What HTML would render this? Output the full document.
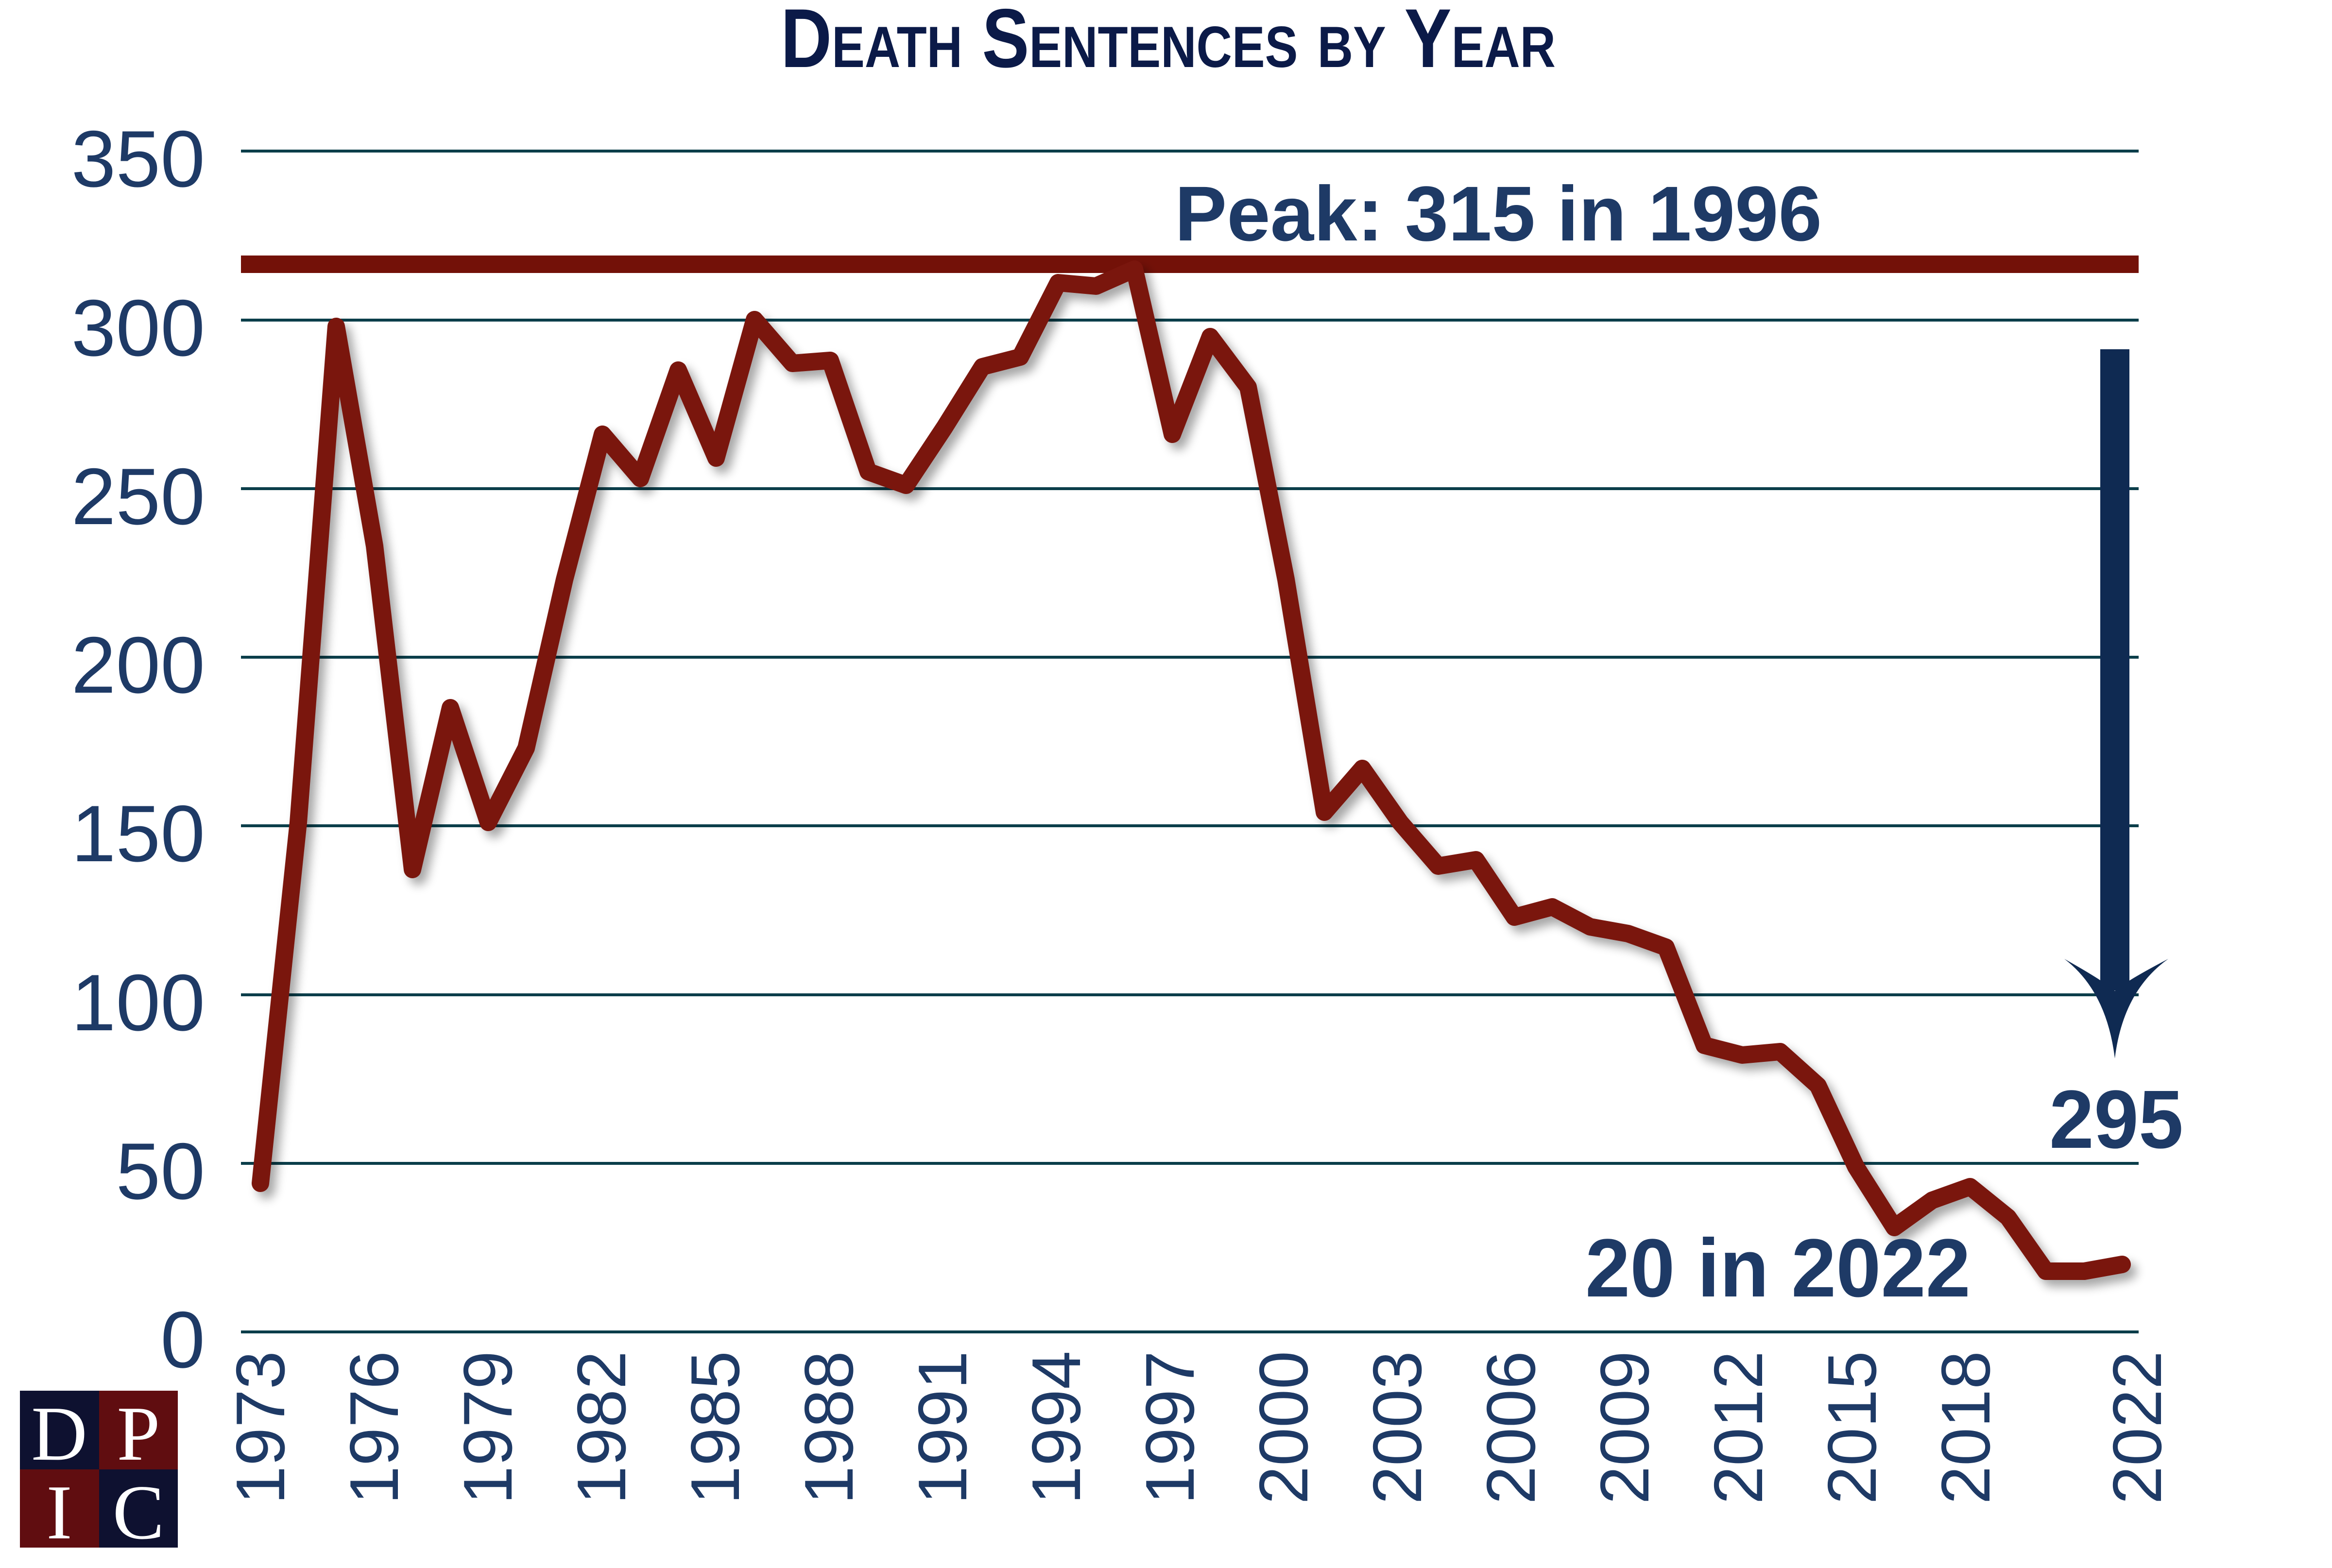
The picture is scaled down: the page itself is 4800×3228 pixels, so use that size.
<!DOCTYPE html>
<html><head><meta charset="utf-8"><style>html,body{margin:0;padding:0;background:#fff}svg{display:block}</style></head>
<body>
<svg xmlns="http://www.w3.org/2000/svg" width="4800" height="3228" viewBox="0 0 4800 3228">
<defs>
<filter id="sh" x="-5%" y="-5%" width="110%" height="110%">
<feGaussianBlur in="SourceAlpha" stdDeviation="10"/>
<feOffset dx="12" dy="14" result="b"/>
<feComponentTransfer><feFuncA type="linear" slope="0.35"/></feComponentTransfer>
<feMerge><feMergeNode/><feMergeNode in="SourceGraphic"/></feMerge>
</filter>
</defs>
<text x="1607" y="138" font-family="Liberation Sans, sans-serif" font-weight="bold" font-size="172" font-variant="small-caps" fill="#0b1a48" textLength="1595" lengthAdjust="spacingAndGlyphs">Death Sentences by Year</text>
<g stroke="#0b3e4a" stroke-width="6">
<line x1="496" y1="311" x2="4402" y2="311"/>
<line x1="496" y1="659" x2="4402" y2="659"/>
<line x1="496" y1="1006" x2="4402" y2="1006"/>
<line x1="496" y1="1353" x2="4402" y2="1353"/>
<line x1="496" y1="1700" x2="4402" y2="1700"/>
<line x1="496" y1="2048" x2="4402" y2="2048"/>
<line x1="496" y1="2395" x2="4402" y2="2395"/>
<line x1="496" y1="2742" x2="4402" y2="2742"/>
</g>
<g font-family="Liberation Sans, sans-serif" font-size="165" fill="#1e3a66" text-anchor="end">
<text x="422" y="384">350</text><text x="422" y="732">300</text><text x="422" y="1079">250</text><text x="422" y="1426">200</text><text x="422" y="1773">150</text><text x="422" y="2121">100</text><text x="422" y="2468">50</text><text x="422" y="2815">0</text>
</g>
<rect x="496" y="526" width="3906" height="36" fill="#731108"/>
<g filter="url(#sh)">
<polyline fill="none" stroke="#7a120b" stroke-width="36" stroke-linejoin="round" stroke-linecap="round"
points="536,2436 614,1693 692,672 771,1124 849,1790 927,1457 1005,1693 1083,1540 1162,1193 1240,894 1318,985 1396,762 1474,943 1553,658 1631,748 1709,742 1787,971 1865,999 1944,880 2022,755 2100,735 2178,582 2256,589 2335,554 2413,894 2491,693 2569,797 2647,1193 2726,1672 2804,1582 2882,1693 2960,1783 3038,1770 3117,1888 3195,1867 3273,1908 3351,1922 3429,1950 3508,2152 3586,2172 3664,2165 3742,2235 3820,2402 3899,2527 3977,2471 4055,2443 4133,2506 4211,2617 4290,2617 4368,2603"/>
</g>
<g font-family="Liberation Sans, sans-serif" font-weight="bold" fill="#1e3a66">
<text x="2418" y="495" font-size="160" textLength="1332" lengthAdjust="spacingAndGlyphs">Peak: 315 in 1996</text>
<text x="3263" y="2669" font-size="170" textLength="793" lengthAdjust="spacingAndGlyphs">20 in 2022</text>
<text x="4218" y="2363" font-size="170" textLength="276" lengthAdjust="spacingAndGlyphs">295</text>
</g>
<rect x="4323" y="719" width="60" height="1320" fill="#0f2a52"/>
<path d="M4249,1974 Q4336,2040 4353,2179 Q4370,2040 4463,1974 Q4375,2020 4353,2040 Q4331,2020 4249,1974 Z" fill="#0f2a52"/>
<g font-family="Liberation Sans, sans-serif" font-size="142" fill="#1e3a66" text-anchor="end">
<text transform="translate(585,2781) rotate(-90)">1973</text>
<text transform="translate(819,2781) rotate(-90)">1976</text>
<text transform="translate(1053,2781) rotate(-90)">1979</text>
<text transform="translate(1287,2781) rotate(-90)">1982</text>
<text transform="translate(1521,2781) rotate(-90)">1985</text>
<text transform="translate(1755,2781) rotate(-90)">1988</text>
<text transform="translate(1989,2781) rotate(-90)">1991</text>
<text transform="translate(2223,2781) rotate(-90)">1994</text>
<text transform="translate(2457,2781) rotate(-90)">1997</text>
<text transform="translate(2691,2781) rotate(-90)">2000</text>
<text transform="translate(2925,2781) rotate(-90)">2003</text>
<text transform="translate(3159,2781) rotate(-90)">2006</text>
<text transform="translate(3393,2781) rotate(-90)">2009</text>
<text transform="translate(3627,2781) rotate(-90)">2012</text>
<text transform="translate(3861,2781) rotate(-90)">2015</text>
<text transform="translate(4095,2781) rotate(-90)">2018</text>
<text transform="translate(4448,2781) rotate(-90)">2022</text>
</g>
<rect x="41" y="2863" width="163" height="162" fill="#0e1130"/>
<rect x="204" y="2863" width="162" height="162" fill="#600d10"/>
<rect x="41" y="3025" width="163" height="161" fill="#600d10"/>
<rect x="204" y="3025" width="162" height="161" fill="#0e1130"/>
<g font-family="Liberation Serif, serif" font-size="160" fill="#fff" text-anchor="middle">
<text x="122" y="3005">D</text><text x="285" y="3005">P</text>
<text x="122" y="3167">I</text><text x="285" y="3167">C</text>
</g>
</svg>
</body></html>
